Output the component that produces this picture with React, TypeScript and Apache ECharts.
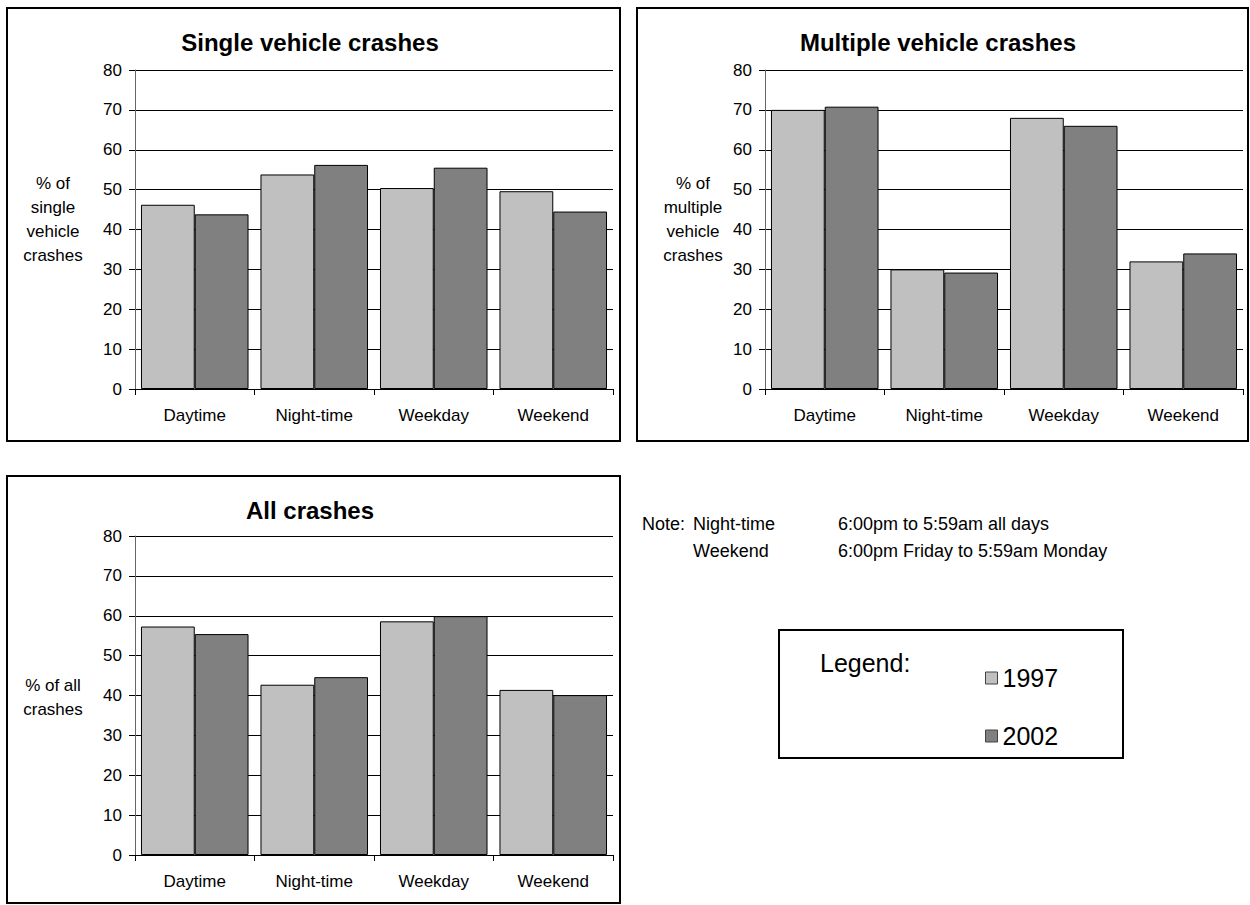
import React, { useEffect, useRef } from "react";
import * as echarts from "echarts";

const categories = ["Daytime", "Night-time", "Weekday", "Weekend"];
const yearNames = ["1997", "2002"];
const single1997 = [46.2, 53.8, 50.4, 49.6];
const single2002 = [43.8, 56.2, 55.5, 44.5];
const multi1997 = [70.0, 30.0, 68.0, 32.0];
const multi2002 = [70.8, 29.2, 66.0, 34.0];
const all1997 = [57.3, 42.7, 58.6, 41.4];
const all2002 = [55.4, 44.6, 59.9, 40.1];
const titles = ["Single vehicle crashes", "Multiple vehicle crashes", "All crashes"];
const axisNames = ["% of\nsingle\nvehicle\ncrashes", "% of\nmultiple\nvehicle\ncrashes", "% of all\ncrashes"];
const noteLabels = ["Night-time", "Weekend"];
const noteTexts = ["6:00pm to 5:59am all days", "6:00pm Friday to 5:59am Monday"];

const FONT = "'Liberation Sans', Arial, sans-serif";
const C1997 = "#C0C0C0";
const C2002 = "#808080";

export default function App() {
  const ref = useRef<HTMLDivElement>(null);
  useEffect(() => {
    if (!ref.current) return;
    const chart = echarts.init(ref.current, undefined, { renderer: "svg" });

    const grids = [
      { left: 135, top: 70, width: 478, height: 319 },
      { left: 765, top: 70, width: 478, height: 319 },
      { left: 135, top: 536, width: 478, height: 319 },
    ];
    const dataSets = [
      [single1997, single2002],
      [multi1997, multi2002],
      [all1997, all2002],
    ];

    const xAxis = grids.map((_, i) => ({
      type: "category",
      gridIndex: i,
      data: categories,
      axisLine: { lineStyle: { color: "#000", width: 1 } },
      axisTick: { show: true, length: 6, lineStyle: { color: "#000" } },
      axisLabel: { color: "#000", fontSize: 17, fontFamily: FONT, margin: 18 },
    }));
    const yAxis = grids.map((_, i) => ({
      type: "value",
      gridIndex: i,
      min: 0,
      max: 80,
      interval: 10,
      axisLine: { show: true, lineStyle: { color: "#666", width: 1 } },
      axisTick: { show: true, length: 6, lineStyle: { color: "#000" } },
      axisLabel: { color: "#000", fontSize: 17, fontFamily: FONT, margin: 13 },
      splitLine: { show: true, lineStyle: { color: "#000", width: 1 } },
    }));

    const series: any[] = [];
    dataSets.forEach((pair, gi) => {
      pair.forEach((vals, si) => {
        series.push({
          type: "bar",
          name: yearNames[si],
          xAxisIndex: gi,
          yAxisIndex: gi,
          data: vals,
          barWidth: "45%",
          barGap: "0%",
          itemStyle: {
            color: si === 0 ? C1997 : C2002,
            borderColor: "#000",
            borderWidth: 1,
          },
        });
      });
    });

    const frames = [
      { x: 7, y: 8, width: 613, height: 433 },
      { x: 637, y: 8, width: 611, height: 433 },
      { x: 7, y: 476, width: 613, height: 427 },
    ];
    const titlePos = [
      [310, 42],
      [938, 42],
      [310, 510],
    ];
    const namePos = [
      [53, 219],
      [693, 219],
      [53, 697],
    ];

    const graphic: any[] = [];
    frames.forEach((f) => {
      graphic.push({
        type: "rect",
        shape: f,
        style: { fill: "none", stroke: "#000", lineWidth: 2 },
        silent: true,
      });
    });
    titles.forEach((t, i) => {
      graphic.push({
        type: "text",
        x: titlePos[i][0],
        y: titlePos[i][1],
        style: {
          text: t,
          fill: "#000",
          fontSize: 24,
          fontWeight: "bold",
          fontFamily: FONT,
          align: "center",
          verticalAlign: "middle",
        },
      });
    });
    axisNames.forEach((t, i) => {
      graphic.push({
        type: "text",
        x: namePos[i][0],
        y: namePos[i][1],
        style: {
          text: t,
          fill: "#000",
          fontSize: 17,
          lineHeight: 24,
          fontFamily: FONT,
          align: "center",
          verticalAlign: "middle",
        },
      });
    });
    graphic.push({
      type: "text",
      x: 642,
      y: 524,
      style: { text: "Note:", fill: "#000", fontSize: 18, fontFamily: FONT, verticalAlign: "middle" },
    });
    noteLabels.forEach((t, i) => {
      graphic.push({
        type: "text",
        x: 693,
        y: 524 + i * 27,
        style: { text: t, fill: "#000", fontSize: 18, fontFamily: FONT, verticalAlign: "middle" },
      });
      graphic.push({
        type: "text",
        x: 838,
        y: 524 + i * 27,
        style: { text: noteTexts[i], fill: "#000", fontSize: 18, fontFamily: FONT, verticalAlign: "middle" },
      });
    });
    graphic.push({
      type: "rect",
      shape: { x: 779, y: 630, width: 344, height: 128 },
      style: { fill: "none", stroke: "#000", lineWidth: 2 },
      silent: true,
    });
    graphic.push({
      type: "text",
      x: 820,
      y: 663,
      style: { text: "Legend:", fill: "#000", fontSize: 25, fontFamily: FONT, verticalAlign: "middle" },
    });

    chart.setOption({
      animation: false,
      backgroundColor: "#fff",
      grid: grids,
      xAxis,
      yAxis,
      series,
      legend: {
        data: yearNames,
        orient: "vertical",
        left: 980,
        top: 658,
        icon: "rect",
        itemWidth: 12,
        itemHeight: 12,
        itemGap: 28,
        selectedMode: false,
        itemStyle: { borderColor: "#444", borderWidth: 1 },
        textStyle: { color: "#000", fontSize: 25, fontFamily: FONT, lineHeight: 30, padding: [0, 0, 0, 0] },
      },
      graphic,
    });
    return () => chart.dispose();
  }, []);
  return (
    <div
      ref={ref}
      style={{ position: "absolute", left: 0, top: 0, width: 1250, height: 905 }}
    />
  );
}
